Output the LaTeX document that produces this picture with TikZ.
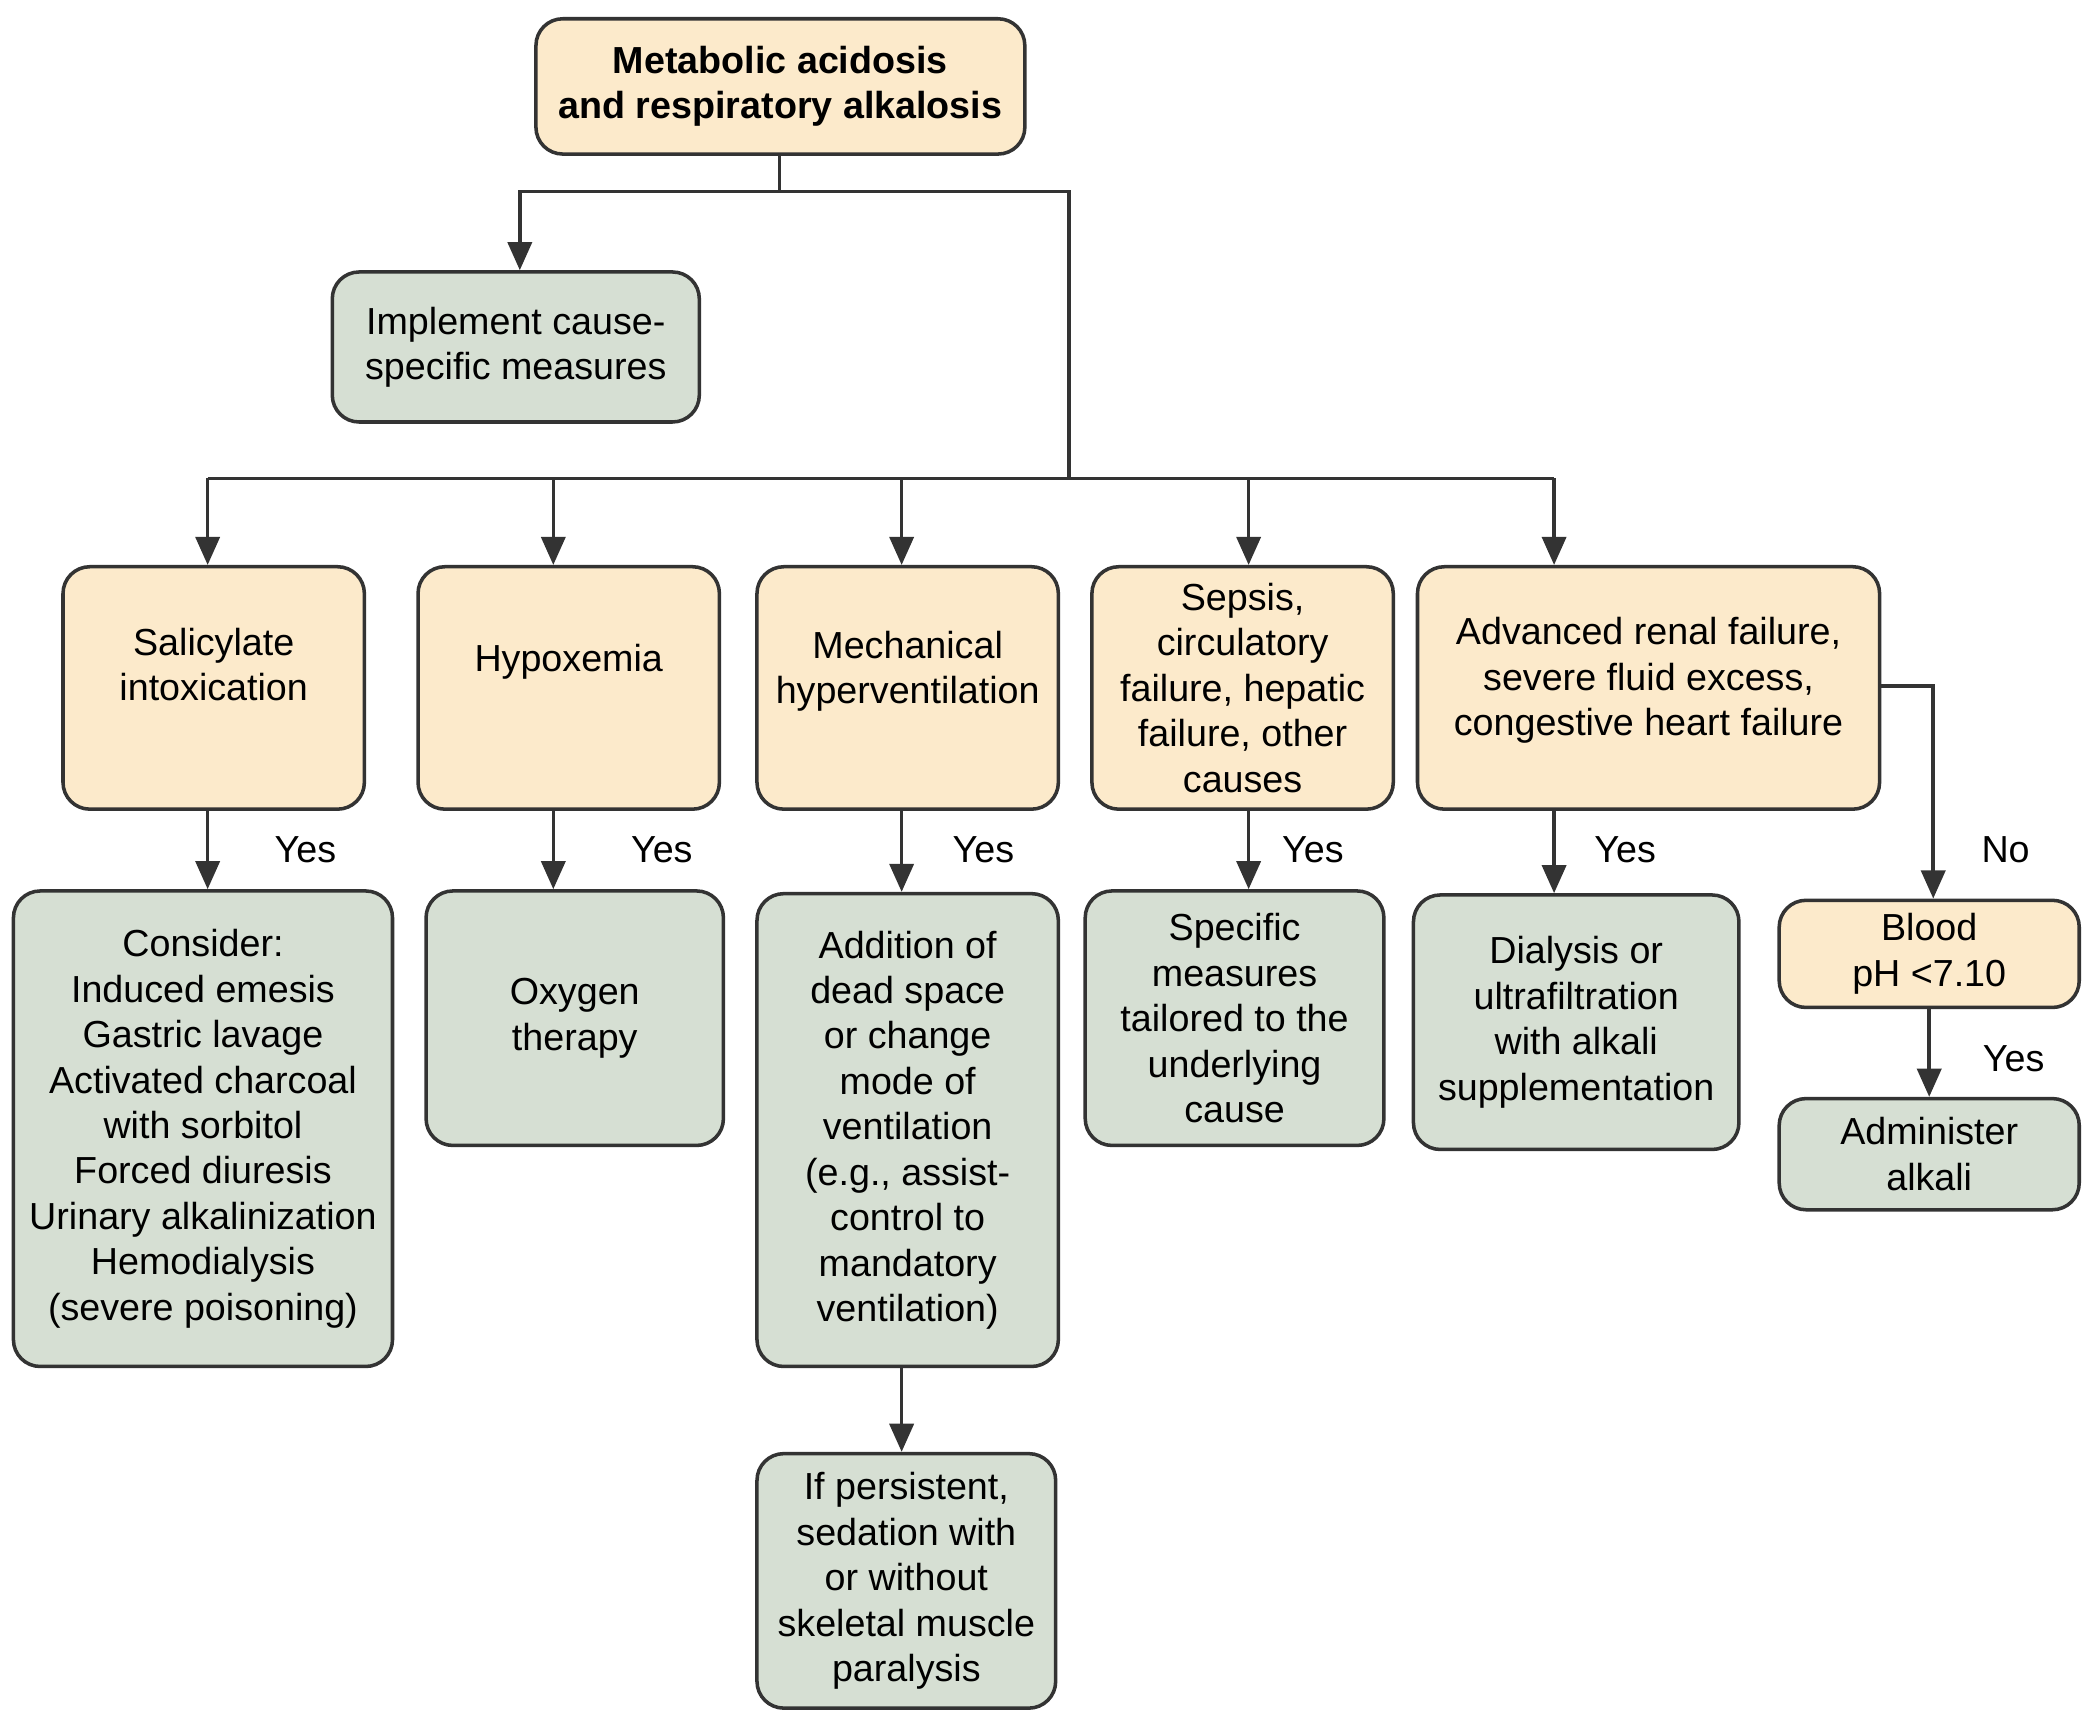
\documentclass[tikz,border=0pt]{standalone}
\usepackage{fontspec}
\setmainfont{Liberation Sans}
\usetikzlibrary{arrows.meta}
\definecolor{ob}{HTML}{FCEACB}
\definecolor{gb}{HTML}{D6DFD3}
\definecolor{ln}{HTML}{333333}
\begin{document}
\begin{tikzpicture}[x=0.02cm,y=-0.02cm,
 box/.style={draw=ln,line width=1.5pt,rounded corners=0.4cm,inner sep=0pt,align=center,font=\fontsize{16}{19.3}\selectfont},
 ob/.style={box,fill=ob}, gb/.style={box,fill=gb},
 txt/.style={align=center,font=\fontsize{16}{19.3}\selectfont,inner sep=0pt},
 ar/.style={draw=ln,line width=1.5pt,-{Triangle[length=0.42cm,width=0.36cm]}},
 ln/.style={draw=ln,line width=1.5pt}]
\useasboundingbox (0,0) rectangle (1563,1280);
\node[ob,minimum width=7.3cm,minimum height=2.02cm,font=\bfseries\fontsize{16}{19.3}\selectfont] (top) at (582.5,64.5) {Metabolic acidosis\\and respiratory alkalosis};
\node[gb,minimum width=5.48cm,minimum height=2.24cm] (impl) at (385,259) {Implement cause-\\specific measures};
\node[ob,minimum width=4.5cm,minimum height=3.62cm] (sal) at (159.5,513.5) {};
\node[txt] at (159.5,496) {Salicylate\\intoxication};
\node[ob,minimum width=4.5cm,minimum height=3.62cm] (hyp) at (424.5,513.5) {};
\node[txt] at (424.5,494) {Hypoxemia};
\node[ob,minimum width=4.5cm,minimum height=3.62cm] (mech) at (677.5,513.5) {};
\node[txt] at (677.5,501) {Mechanical\\hyperventilation};
\node[ob,minimum width=4.5cm,minimum height=3.62cm] (sep) at (927.5,513.5) {Sepsis,\\circulatory\\failure, hepatic\\failure, other\\causes};
\node[ob,minimum width=6.9cm,minimum height=3.62cm] (adv) at (1230.5,513.5) {};
\node[txt] at (1230.5,508) {Advanced renal failure,\\severe fluid excess,\\congestive heart failure};
\node[gb,minimum width=5.66cm,minimum height=7.1cm] (cons) at (151.5,842.5) {Consider:\\Induced emesis\\Gastric lavage\\Activated charcoal\\with sorbitol\\Forced diuresis\\Urinary alkalinization\\Hemodialysis\\(severe poisoning)};
\node[gb,minimum width=4.44cm,minimum height=3.8cm] (oxy) at (429,760) {Oxygen\\therapy};
\node[gb,minimum width=4.5cm,minimum height=7.06cm] (add) at (677.5,843.5) {Addition of\\dead space\\or change\\mode of\\ventilation\\(e.g., assist-\\control to\\mandatory\\ventilation)};
\node[gb,minimum width=4.46cm,minimum height=3.8cm] (pers) at (676.5,1180) {If persistent,\\sedation with\\or without\\skeletal muscle\\paralysis};
\node[gb,minimum width=4.46cm,minimum height=3.8cm] (spec) at (921.5,760) {Specific\\measures\\tailored to the\\underlying\\cause};
\node[gb,minimum width=4.86cm,minimum height=3.8cm] (dial) at (1176.5,763) {Dialysis or\\ultrafiltration\\with alkali\\supplementation};
\node[ob,minimum width=4.48cm,minimum height=1.6cm] (blood) at (1440,712) {Blood\\pH <7.10};
\node[gb,minimum width=4.48cm,minimum height=1.66cm] (admin) at (1440,861.5) {Administer\\alkali};
\coordinate (j1) at (582,143);
\coordinate (j2) at (798,357);
\draw[ln] (top.south -| j1) -- (j1);
\draw[ar] (j1) -| (impl.north -| 388,0);
\draw[ln] (j1) -| (j2);
\draw[ln] (155,357) -- (1160,357);
\foreach \x/\n in {155/sal,413/hyp,673/mech,932/sep,1160/adv}
  \draw[ar] (\x,357) -- (\n.north -| \x,0);
\draw[ar] (sal.south -| 155,0) -- (cons.north -| 155,0);
\draw[ar] (hyp.south -| 413,0) -- (oxy.north -| 413,0);
\draw[ar] (mech.south -| 673,0) -- (add.north -| 673,0);
\draw[ar] (add.south -| 673,0) -- (pers.north -| 673,0);
\draw[ar] (sep.south -| 932,0) -- (spec.north -| 932,0);
\draw[ar] (adv.south -| 1160,0) -- (dial.north -| 1160,0);
\draw[ar] (adv.east |- 0,512) -| (blood.north -| 1443,0);
\draw[ar] (blood.south -| 1440,0) -- (admin.north -| 1440,0);
\foreach \x/\y/\t in {228/634/Yes,494/634/Yes,734/634/Yes,980/634/Yes,1213/634/Yes,1497/634/No,1503/790/Yes}
  \node[txt] (l\x) at (\x,\y) {\t};
\end{tikzpicture}
\end{document}
